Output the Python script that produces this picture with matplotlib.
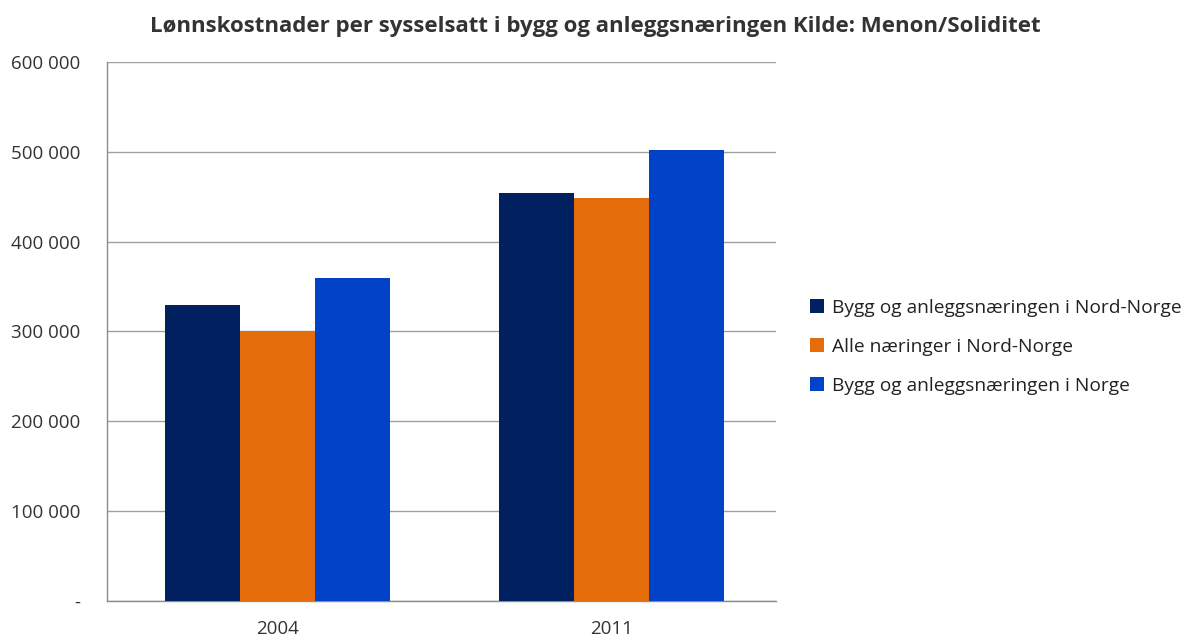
import matplotlib.pyplot as plt
import numpy as np

# Data
years = ['2004', '2011']
series_names = ['Bygg og anleggsnæringen i Nord-Norge',
                'Alle næringer i Nord-Norge',
                'Bygg og anleggsnæringen i Norge']
bygg_nord = [330000, 454000]
alle_nord = [301000, 449000]
bygg_norge = [359000, 502000]
colors = ['#002060', '#E46C0A', '#0042C8']

plt.rcParams['font.family'] = ['Open Sans', 'DejaVu Sans']

fig = plt.figure(figsize=(11.91, 6.41), dpi=100)
ax = fig.add_axes([0.0898, 0.0624, 0.5618, 0.8409])

x = np.arange(len(years))
w = 0.224
for i, (vals, name, c) in enumerate(zip([bygg_nord, alle_nord, bygg_norge], series_names, colors)):
    ax.bar(x + (i - 1) * w, vals, width=w, color=c, label=name, zorder=3)

ax.set_xlim(-0.509, 1.491)
ax.set_ylim(0, 600000)
ax.set_xticks(x)
ax.set_xticklabels(years)
yt = np.arange(0, 600001, 100000)
ax.set_yticks(yt)
ax.set_yticklabels(['-'] + [f'{v // 1000} 000' for v in yt[1:]])
ax.tick_params(axis='both', labelsize=13.5, colors='#333333', length=0)
ax.tick_params(axis='y', pad=19)
ax.tick_params(axis='x', pad=14)

ax.grid(axis='y', color='#a0a0a0', linewidth=1, zorder=0)
ax.spines['top'].set_visible(False)
ax.spines['right'].set_visible(False)
for s in ['left', 'bottom']:
    ax.spines[s].set_color('#8c8c8c')
    ax.spines[s].set_linewidth(1)

fig.suptitle('Lønnskostnader per sysselsatt i bygg og anleggsnæringen Kilde: Menon/Soliditet',
             x=0.5, y=0.975, fontsize=16, fontweight='bold', color='#333333', va='top')

fig.legend(loc='center left', bbox_to_anchor=(0.666, 0.459), frameon=False,
           fontsize=13.8, handlelength=0.7, handleheight=0.7, handletextpad=0.45,
           labelspacing=1.1, labelcolor='#222222')

plt.savefig('out.png', dpi=100, facecolor='white')
